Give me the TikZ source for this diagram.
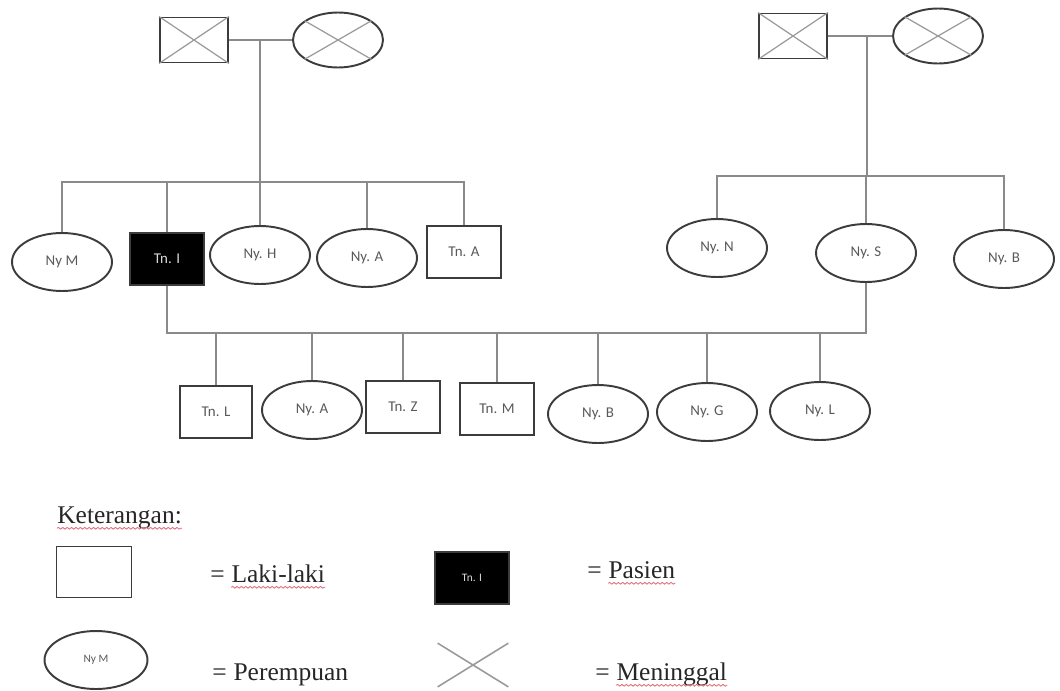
\documentclass[tikz,border=0pt]{standalone}
\usepackage{fontspec}
\setmainfont{Liberation Serif}
\newfontfamily\lblfont{Carlito}
\usepackage{xcolor}
\definecolor{LineGray}{HTML}{8a8a8a}
\definecolor{EdgeGray}{HTML}{3c3c3c}
\definecolor{CrossGray}{HTML}{9a9a9a}
\definecolor{SpellRed}{HTML}{e0707c}
\usepackage{tikz}
\usetikzlibrary{positioning, shapes.geometric, decorations.pathmorphing}

\begin{document}
\begin{tikzpicture}[x=0.02cm, y=-0.02cm,
  male/.style={draw=EdgeGray, line width=1.1pt, minimum width=1.48cm, minimum height=1.04cm,
    inner sep=0pt, font=\lblfont\fontsize{8.5}{10}\selectfont, text=black!65},
  female/.style={ellipse, draw=EdgeGray, line width=1.1pt, minimum width=2cm, minimum height=1.16cm,
    inner sep=0pt, font=\lblfont\fontsize{8.5}{10}\selectfont, text=black!65},
  patient/.style={male, fill=black, text=white!85!black},
  link/.style={draw=LineGray, line width=0.9pt},
  dead/.style={draw=CrossGray, line width=0.7pt},
  legend/.style={inner sep=0pt, font=\fontsize{14.5}{17}\selectfont, text=black!85},
  spell/.style={draw=SpellRed, line width=0.5pt, decorate,
    decoration={snake, amplitude=0.5pt, segment length=2.5pt}}]
  \useasboundingbox (0,0) rectangle (1060,690);

  % grandparents
  \node[male, minimum width=1.36cm, minimum height=0.9cm] (gf1) at (194,40) {};
  \node[female, minimum width=1.8cm, minimum height=1.1cm] (gm1) at (338,40) {};
  \node[male, minimum width=1.36cm, minimum height=0.9cm] (gf2) at (793,36) {};
  \node[female, minimum width=1.8cm, minimum height=1.1cm] (gm2) at (938,36) {};
  \foreach \k in {gf1,gf2} {
    \draw[dead] (\k.north west) -- (\k.south east);
    \draw[dead] (\k.north east) -- (\k.south west);
  }
  \foreach \k in {gm1,gm2} {
    \draw[dead] (\k.150) -- (\k.-30);
    \draw[dead] (\k.30) -- (\k.-150);
  }
  \coordinate (m1) at (260,40);
  \coordinate (bar1) at (260,182);
  \coordinate (m2) at (867,36);
  \coordinate (bar2) at (867,176);
  \coordinate (bar3) at (517,333);

  % children
  \node[female] (nym) at (62,262) {Ny M};
  \node[patient] (tni) at (167,259) {Tn. I};
  \node[female] (nyh) at (260,255) {Ny. H};
  \node[female] (nya1) at (367,258) {Ny. A};
  \node[male] (tna) at (464,252) {Tn. A};
  \node[female] (nyn) at (717,248) {Ny. N};
  \node[female] (nys) at (866,253) {Ny. S};
  \node[female] (nyb1) at (1004,259) {Ny. B};

  % grandchildren
  \node[male, minimum width=1.44cm] (tnl) at (216,412) {Tn. L};
  \node[female] (nya2) at (312,410) {Ny. A};
  \node[male] (tnz) at (403,407) {Tn. Z};
  \node[male] (tnm) at (497,409) {Tn. M};
  \node[female] (nyb2) at (598,414) {Ny. B};
  \node[female] (nyg) at (707,412) {Ny. G};
  \node[female] (nyl) at (820,411) {Ny. L};

  % lines
  \draw[link] (gf1.east) -- (gm1.west);
  \draw[link] (gf2.east) -- (gm2.west);
  \draw[link] (m1) -- (bar1);
  \draw[link] (m2) -- (bar2);
  \foreach \k in {nym,tni,nyh,nya1,tna}
    \draw[link] (\k.north) |- (bar1);
  \foreach \k in {nyn,nys,nyb1}
    \draw[link] (\k.north) |- (bar2);
  \foreach \k in {tni,nys}
    \draw[link] (\k.south) |- (bar3);
  \foreach \k in {tnl,nya2,tnz,tnm,nyb2,nyg,nyl}
    \draw[link] (\k.north) |- (bar3);

  % keterangan
  \node[legend, anchor=base west] (ket) at (57,523) {Keterangan:};
  \node[male, minimum width=1.5cm, minimum height=1.02cm] (lgmale) at (94,572) {};
  \node[legend, anchor=base west] (eq1) at (210,582) {=};
  \node[legend, base right=3.5pt of eq1] (laki) {Laki-laki};
  \node[patient, font=\lblfont\fontsize{6.5}{8}\selectfont] (lgpat) at (472,578) {Tn. I};
  \node[legend, anchor=base west] (eq2) at (587,578) {=};
  \node[legend, base right=3.5pt of eq2] (pasien) {Pasien};
  \node[female, minimum width=2.06cm, font=\lblfont\fontsize{6.5}{8}\selectfont] (lgfem) at (96,660) {Ny M};
  \node[legend, anchor=base west] (eq3) at (212,680) {=};
  \node[legend, base right=3.5pt of eq3] (perem) {Perempuan};
  \node[minimum width=1.4cm, minimum height=0.86cm, inner sep=0pt] (lgx) at (473,665) {};
  \draw[dead, line width=0.9pt] (lgx.north west) -- (lgx.south east);
  \draw[dead, line width=0.9pt] (lgx.north east) -- (lgx.south west);
  \node[legend, anchor=base west] (eq4) at (595,680) {=};
  \node[legend, base right=3.5pt of eq4] (mening) {Meninggal};
  \foreach \k in {ket,laki,pasien,mening}
    \draw[spell] ([yshift=-3pt]\k.base west) -- ([yshift=-3pt]\k.base east);
\end{tikzpicture}
\end{document}
